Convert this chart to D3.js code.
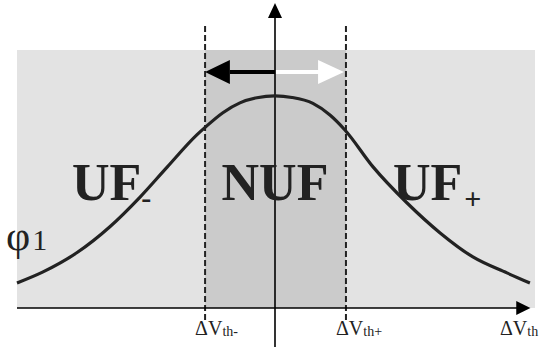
<!DOCTYPE html>
<html>
<head>
<meta charset="utf-8">
<script src="https://cdn.jsdelivr.net/npm/d3@7"></script>
<style>
  body { margin: 0; background: #fff; }
  svg { display: block; }
</style>
</head>
<body>
<div id="chart"></div>
<script>
// curve phi1 vs dV (normalised units)
const curveX = [-1.0, -0.899, -0.767, -0.64, -0.523, -0.419, -0.302, -0.271, -0.202, -0.136, -0.07, 0,
  0.066, 0.147, 0.213, 0.271, 0.38, 0.512, 0.64, 0.767, 0.899, 0.988];
const curveY = [0.097, 0.14, 0.215, 0.315, 0.43, 0.545, 0.672, 0.70, 0.757, 0.795, 0.815, 0.822,
  0.816, 0.793, 0.748, 0.69, 0.547, 0.407, 0.291, 0.198, 0.136, 0.097];

// threshold voltages
const thresholds = [-0.271, 0.275];
const thresholdLabels = ["th-", "th+"];

// region labels
const regionNames = ["UF", "NUF", "UF"];
const regionSubs = ["-", "", "+"];
const regionX = [-0.787, 0.0, 0.457];

const width = 539, height = 358;
const serif = "Liberation Serif";

const x = d3.scaleLinear().domain([-1, 1]).range([17, 533]);
const y = d3.scaleLinear().domain([0, 1]).range([308, 50]);

const svg = d3.select("#chart").append("svg")
  .attr("width", width)
  .attr("height", height)
  .attr("font-family", serif);

// background bands
svg.append("rect")
  .attr("x", x(-1)).attr("y", y(1))
  .attr("width", x(1) - x(-1) + 2).attr("height", y(0) - y(1))
  .attr("fill", "#e3e3e3");

svg.append("rect")
  .attr("x", x(thresholds[0])).attr("y", y(1))
  .attr("width", x(thresholds[1]) - x(thresholds[0])).attr("height", y(0) - y(1))
  .attr("fill", "#cbcbcb");

// dashed threshold lines
svg.selectAll(".th")
  .data(thresholds)
  .enter().append("line")
  .attr("x1", d => x(d)).attr("x2", d => x(d))
  .attr("y1", y(1.093)).attr("y2", y(-0.047))
  .attr("stroke", "#222")
  .attr("stroke-width", 2)
  .attr("stroke-dasharray", "6,3");

// axes
svg.append("line")
  .attr("x1", x(-1)).attr("x2", x(0.94))
  .attr("y1", y(0)).attr("y2", y(0))
  .attr("stroke", "#000").attr("stroke-width", 1.6);
svg.append("path")
  .attr("d", `M${x(0.935)},${y(0) - 7}L${x(0.99)},${y(0)}L${x(0.935)},${y(0) + 7}Z`)
  .attr("fill", "#000");

svg.append("line")
  .attr("x1", x(0)).attr("x2", x(0))
  .attr("y1", y(-0.151)).attr("y2", y(1.13))
  .attr("stroke", "#000").attr("stroke-width", 1.6);
svg.append("path")
  .attr("d", `M${x(0) - 7},${y(1.124)}L${x(0)},${y(1.182)}L${x(0) + 7},${y(1.124)}Z`)
  .attr("fill", "#000");

// left / right arrows
const arrowY = y(0.915);
svg.append("line")
  .attr("x1", x(0)).attr("x2", x(-0.175))
  .attr("y1", arrowY).attr("y2", arrowY)
  .attr("stroke", "#000").attr("stroke-width", 4);
svg.append("path")
  .attr("d", `M${x(-0.175)},${arrowY - 12}L${x(thresholds[0])},${arrowY}L${x(-0.175)},${arrowY + 12}Z`)
  .attr("fill", "#000");
svg.append("line")
  .attr("x1", x(0) + 1).attr("x2", x(0.17))
  .attr("y1", arrowY).attr("y2", arrowY)
  .attr("stroke", "#fff").attr("stroke-width", 4);
svg.append("path")
  .attr("d", `M${x(0.167)},${arrowY - 12}L${x(thresholds[1]) - 2},${arrowY}L${x(0.167)},${arrowY + 12}Z`)
  .attr("fill", "#fff");

// curve
const pts = curveX.map((d, i) => [d, curveY[i]]);
svg.append("path")
  .datum(pts)
  .attr("fill", "none")
  .attr("stroke", "#222")
  .attr("stroke-width", 3.2)
  .attr("d", d3.line().x(d => x(d[0])).y(d => y(d[1])).curve(d3.curveMonotoneX));

// region labels
regionNames.forEach((name, i) => {
  const t = svg.append("text")
    .attr("x", x(regionX[i]))
    .attr("y", 200)
    .attr("font-size", 52)
    .attr("font-weight", "bold")
    .attr("fill", "#222")
    .attr("text-anchor", i === 1 ? "middle" : "start")
    .text(name);
  if (regionSubs[i]) {
    t.append("tspan")
      .attr("dx", regionSubs[i] === "+" ? 2 : 0)
      .attr("dy", regionSubs[i] === "+" ? 9 : 8)
      .attr("font-size", 30)
      .text(regionSubs[i]);
  }
});

// phi1 label
svg.append("text")
  .attr("x", 6).attr("y", 250)
  .attr("font-size", 42)
  .attr("fill", "#222")
  .text("φ")
  .append("tspan").attr("font-size", 30).attr("dx", 2).text("1");

// tick labels
thresholds.forEach((d, i) => {
  svg.append("text")
    .attr("x", x(d) - 10).attr("y", 335)
    .attr("font-size", 20)
    .attr("fill", "#222")
    .text("ΔV")
    .append("tspan").attr("font-size", 14).attr("dy", 1).text(thresholdLabels[i]);
});
svg.append("text")
  .attr("x", 500).attr("y", 335)
  .attr("font-size", 20)
  .attr("fill", "#222")
  .text("ΔV")
  .append("tspan").attr("font-size", 14).attr("dy", 1).text("th");
</script>
</body>
</html>
